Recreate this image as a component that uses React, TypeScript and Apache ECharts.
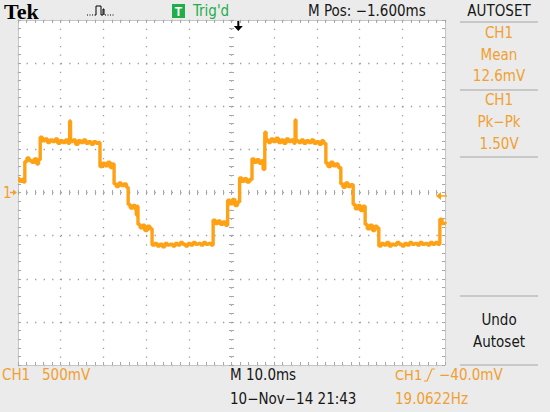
import React, { useEffect, useRef } from "react";
import * as echarts from "echarts";

// ---- scope settings ----
const timeRangeMs = [-50, 50];
const timePerDivMs = 10;
const voltRange = [-2, 2];
const voltPerDiv = 0.5;
const triggerTimeMs = 1.6;
const triggerLevelV = -0.04;

// ---- CH1 trace samples [time ms, volts] ----
const traceSamples: [number, number][] = [
  [-50, 0.16], [-49.6, 0.13], [-49.1, 0.15], [-48.7, 0.12],
  [-48.4, 0.36], [-47.9, 0.4], [-47.4, 0.37], [-46.8, 0.35], [-46.2, 0.39], [-45.6, 0.33], [-45.2, 0.38],
  [-44.8, 0.64], [-44.3, 0.6], [-43.7, 0.62], [-43.1, 0.58], [-42.5, 0.61], [-41.9, 0.59], [-41.3, 0.62],
  [-40.7, 0.57], [-40.1, 0.6], [-39.5, 0.58], [-38.9, 0.61], [-38.3, 0.57], [-37.9, 0.83], [-37.7, 0.59],
  [-37.1, 0.61], [-36.5, 0.56], [-35.9, 0.6], [-35.3, 0.58], [-34.7, 0.61], [-34.1, 0.57], [-33.5, 0.59],
  [-32.9, 0.56], [-32.3, 0.59], [-31.7, 0.57], [-31.2, 0.58],
  [-30.8, 0.3], [-30.2, 0.34], [-29.6, 0.31], [-29.0, 0.35], [-28.4, 0.29], [-27.9, 0.33],
  [-27.5, 0.1], [-27.0, 0.07], [-26.4, 0.11], [-25.8, 0.08], [-25.2, 0.1], [-24.6, 0.06],
  [-24.2, -0.14], [-23.7, -0.18], [-23.1, -0.15], [-22.5, -0.2], [-22.3, -0.26], [-22.1, -0.16],
  [-21.9, -0.37], [-21.4, -0.41], [-20.8, -0.38], [-20.3, -0.44], [-19.7, -0.39], [-19.1, -0.42],
  [-18.6, -0.61], [-18.0, -0.59], [-17.4, -0.62], [-16.8, -0.6], [-16.2, -0.63], [-15.6, -0.59],
  [-15.0, -0.61], [-14.4, -0.6], [-13.8, -0.62], [-13.2, -0.59], [-12.6, -0.61], [-12.0, -0.58],
  [-11.4, -0.6], [-10.8, -0.62], [-10.2, -0.59], [-9.6, -0.61], [-9.0, -0.58], [-8.4, -0.6],
  [-7.8, -0.59], [-7.2, -0.61], [-6.6, -0.58], [-6.0, -0.6], [-5.4, -0.59], [-4.8, -0.61],
  [-4.3, -0.32], [-3.8, -0.36], [-3.2, -0.33], [-2.6, -0.37], [-2.0, -0.34], [-1.4, -0.38],
  [-0.9, -0.09], [-0.4, -0.13], [0.2, -0.08], [0.8, -0.15], [1.4, -0.11],
  [1.9, 0.17], [2.4, 0.13], [3.0, 0.16], [3.6, 0.12], [4.2, 0.15],
  [4.8, 0.39], [5.3, 0.35], [5.9, 0.38], [6.5, 0.34], [7.1, 0.37], [7.4, 0.27],
  [7.8, 0.7], [8.1, 0.61], [8.6, 0.58], [9.2, 0.62], [9.8, 0.59], [10.4, 0.63], [11.0, 0.58],
  [11.6, 0.61], [12.2, 0.57], [12.8, 0.62], [13.4, 0.59], [14.0, 0.61], [14.6, 0.57], [14.9, 0.84],
  [15.1, 0.6], [15.7, 0.58], [16.3, 0.61], [16.9, 0.57], [17.5, 0.6], [18.1, 0.58], [18.7, 0.61],
  [19.3, 0.57], [19.9, 0.59], [20.5, 0.56], [21.1, 0.6], [21.6, 0.57],
  [22.1, 0.34], [22.6, 0.3], [23.2, 0.35], [23.8, 0.31], [24.4, 0.33], [25.0, 0.29],
  [25.6, 0.1], [26.1, 0.06], [26.7, 0.11], [27.3, 0.07], [27.9, 0.09],
  [28.5, -0.14], [29.0, -0.19], [29.6, -0.15], [30.2, -0.21], [30.8, -0.16],
  [31.3, -0.37], [31.8, -0.42], [32.4, -0.38], [33.0, -0.44], [33.6, -0.39], [34.1, -0.41],
  [34.5, -0.62], [35.1, -0.59], [35.7, -0.61], [36.3, -0.58], [36.9, -0.62], [37.5, -0.6],
  [38.1, -0.61], [38.7, -0.58], [39.3, -0.6], [39.9, -0.62], [40.5, -0.59], [41.1, -0.61],
  [41.7, -0.58], [42.3, -0.6], [42.9, -0.59], [43.5, -0.61], [44.1, -0.58], [44.7, -0.6],
  [45.3, -0.59], [45.9, -0.61], [46.5, -0.58], [47.1, -0.6], [47.7, -0.58], [48.3, -0.6],
  [48.8, -0.31], [49.3, -0.36], [50, -0.34],
];

// ---- texts ----
const headerLabels = { brand: "Tek", trig: "Trig'd", mpos: "M Pos: −1.600ms", autoset: "AUTOSET" };
const measureLines = ["CH1", "Mean", "12.6mV", "CH1", "Pk−Pk", "1.50V"];
const undoLines = ["Undo", "Autoset"];
const footer = {
  ch: "CH1", scale: "500mV", timebase: "M 10.0ms", date: "10−Nov−14 21:43",
  trigCh: "CH1", trigLevel: "−40.0mV", freq: "19.0622Hz",
};

const FONT = "'Liberation Sans Narrow','DejaVu Sans Condensed','Arial Narrow',sans-serif";
const ORANGE = "#f0a030";
const TRACE = "#ffa114";
const BLACK = "#161616";
const GREEN = "#1fae4a";
const PANEL_LINE = "#bcbcbc";
const TICK = "#a8a8a8";

function txt(text: string, x: number, y: number, color: string, align = "left", size = 15, weight = "normal", family = FONT) {
  return {
    type: "text", x, y, silent: true, z: 100,
    style: {
      text, fill: color, font: `${weight} ${size}px ${family}`,
      align, textAlign: align, verticalAlign: "middle", textVerticalAlign: "middle",
    },
  };
}
function hline(x1: number, x2: number, y: number) {
  return { type: "line", silent: true, z: 100, shape: { x1, y1: y, x2, y2: y }, style: { stroke: PANEL_LINE, lineWidth: 1.5 } };
}

export default function App() {
  const ref = useRef<HTMLDivElement>(null);
  useEffect(() => {
    if (!ref.current) return;
    const chart = echarts.init(ref.current, undefined, { renderer: "svg" });
    const tickStyle = { color: TICK, width: 1 };
    const xBase: any = {
      type: "value", min: timeRangeMs[0], max: timeRangeMs[1], interval: timePerDivMs,
      axisLabel: { show: false }, splitLine: { show: false },
      axisTick: { show: true, inside: true, length: 3, lineStyle: tickStyle },
      minorTick: { show: true, splitNumber: 5, length: 3, lineStyle: tickStyle },
    };
    const yBase: any = {
      type: "value", min: voltRange[0], max: voltRange[1], interval: voltPerDiv,
      axisLabel: { show: false }, splitLine: { show: false },
      axisTick: { show: true, inside: true, length: 3, lineStyle: tickStyle },
      minorTick: { show: true, splitNumber: 5, length: 3, lineStyle: tickStyle },
    };
    const borderLine = { show: true, onZero: false, lineStyle: { color: "#c6c6c6", width: 1 } };
    const centerLine = { show: false, onZero: true, onZeroAxisIndex: 0 };
    const cTickIn = { show: true, inside: true, length: 2.5, lineStyle: tickStyle };
    const cTickOut = { show: true, inside: false, length: 2.5, lineStyle: tickStyle };
    const cMinIn = { show: true, splitNumber: 5, length: 2.5, lineStyle: tickStyle };

    chart.setOption({
      animation: false,
      backgroundColor: "#ebebeb",
      grid: { left: 18, top: 20, width: 427, height: 345, show: true, backgroundColor: "#ffffff", borderWidth: 0 },
      xAxis: [
        { ...xBase, position: "bottom", axisLine: borderLine,
          splitLine: { show: true, lineStyle: { color: "#9c9c9c", width: 1.3, type: [1.3, 7.325] } } },
        { ...xBase, position: "top", axisLine: borderLine },
        { ...xBase, position: "bottom", axisLine: centerLine, axisTick: cTickIn, minorTick: cMinIn },
        { ...xBase, position: "bottom", axisLine: centerLine, axisTick: cTickOut, minorTick: cMinIn },
      ],
      yAxis: [
        { ...yBase, position: "left", axisLine: borderLine,
          splitLine: { show: true, lineStyle: { color: "#9c9c9c", width: 1.3, type: [1.3, 7.24] } } },
        { ...yBase, position: "right", axisLine: borderLine },
        { ...yBase, position: "left", axisLine: centerLine, axisTick: cTickIn, minorTick: cMinIn },
        { ...yBase, position: "left", axisLine: centerLine, axisTick: cTickOut, minorTick: cMinIn },
      ],
      series: [
        {
          type: "line", xAxisIndex: 0, yAxisIndex: 0, data: traceSamples, step: "end",
          showSymbol: false, symbol: "none", z: 10,
          lineStyle: { color: TRACE, width: 3.4 },
        },
      ],
    });

    const trigX = chart.convertToPixel({ xAxisIndex: 0 }, triggerTimeMs) as number;
    const trigY = chart.convertToPixel({ yAxisIndex: 0 }, triggerLevelV) as number;
    const zeroY = chart.convertToPixel({ yAxisIndex: 0 }, 0) as number;
    const rightX = chart.convertToPixel({ xAxisIndex: 0 }, timeRangeMs[1]) as number;

    const g: any[] = [
      txt(headerLabels.brand, 4, 11, "#000", "left", 22, "bold", "'Liberation Serif','DejaVu Serif',serif"),
      { type: "polyline", silent: true, z: 100, shape: { points: [[87, 15], [95, 15]] }, style: { stroke: "#000", lineWidth: 1, lineDash: [1, 1.5], fill: null } },
      { type: "polyline", silent: true, z: 100, shape: { points: [[95, 15], [96, 15], [96, 6], [101, 6], [101, 15], [103, 15], [103, 9], [104, 9], [104, 15]] }, style: { stroke: "#000", lineWidth: 1, fill: null } },
      { type: "polyline", silent: true, z: 100, shape: { points: [[105, 15], [115, 15]] }, style: { stroke: "#000", lineWidth: 1, lineDash: [1, 1.5], fill: null } },
      { type: "rect", silent: true, z: 100, shape: { x: 172, y: 4, width: 13, height: 14 }, style: { fill: GREEN } },
      txt("T", 178.5, 11.5, "#fff", "center", 12, "bold", "'Liberation Sans',sans-serif"),
      txt(headerLabels.trig, 193, 11, GREEN, "left", 15),
      txt(headerLabels.mpos, 308, 11, BLACK, "left", 15),
      txt(headerLabels.autoset, 499, 11, BLACK, "center", 15),
      hline(460, 538, 22), hline(460, 538, 90), hline(460, 538, 157), hline(460, 538, 296), hline(460, 538, 365),
      ...measureLines.map((s, i) => txt(s, 499, [33, 55, 76, 100, 122, 144][i], ORANGE, "center", 15)),
      ...undoLines.map((s, i) => txt(s, 499, [320, 342][i], BLACK, "center", 15)),
      txt(footer.ch, 2, 375, ORANGE, "left", 15),
      txt(footer.scale, 42, 375, ORANGE, "left", 15),
      txt(footer.timebase, 230, 375, BLACK, "left", 15),
      txt(footer.date, 230, 399, BLACK, "left", 15),
      txt(footer.trigCh, 395, 375, ORANGE, "left", 14.5),
      { type: "polyline", silent: true, z: 100, shape: { points: [[424, 381], [427, 381], [432, 369], [435, 369]] }, style: { stroke: ORANGE, lineWidth: 1.2, fill: null } },
      txt(footer.trigLevel, 439, 375, ORANGE, "left", 15),
      txt(footer.freq, 395, 399, ORANGE, "left", 15),
      // trigger position arrow (top)
      { type: "line", silent: true, z: 100, shape: { x1: trigX, y1: 21, x2: trigX, y2: 27 }, style: { stroke: "#000", lineWidth: 2 } },
      { type: "polygon", silent: true, z: 100, shape: { points: [[trigX - 4.5, 26], [trigX + 4.5, 26], [trigX, 31]] }, style: { fill: "#000" } },
      // trigger level arrow (right)
      { type: "line", silent: true, z: 100, shape: { x1: rightX - 6, y1: trigY, x2: rightX + 2, y2: trigY }, style: { stroke: TRACE, lineWidth: 1.5 } },
      { type: "polygon", silent: true, z: 100, shape: { points: [[rightX - 9, trigY], [rightX - 4, trigY - 4], [rightX - 4, trigY + 4]] }, style: { fill: TRACE } },
      // channel 1 ground marker (left)
      txt("1", 3, zeroY, ORANGE, "left", 15),
      { type: "line", silent: true, z: 100, shape: { x1: 10, y1: zeroY, x2: 14, y2: zeroY }, style: { stroke: ORANGE, lineWidth: 1.5 } },
      { type: "polygon", silent: true, z: 100, shape: { points: [[13, zeroY - 3], [17, zeroY], [13, zeroY + 3]] }, style: { fill: ORANGE } },
    ];
    chart.setOption({ graphic: { elements: g } });
    return () => chart.dispose();
  }, []);
  return <div ref={ref} style={{ position: "fixed", left: 0, top: 0, width: 550, height: 412 }} />;
}
